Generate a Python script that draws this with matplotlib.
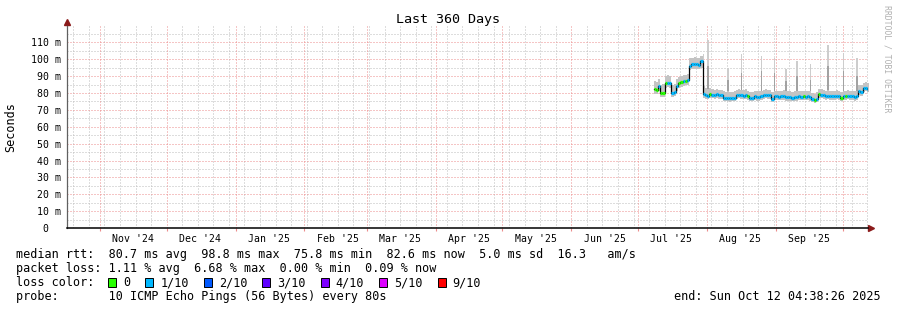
import matplotlib
matplotlib.use('Agg')
import matplotlib.pyplot as plt
import matplotlib.dates as mdates
from matplotlib.patches import Rectangle
import pandas as pd

# --- data (one value per day from 2025-07-08) ---
FIRST_DAY = '2025-07-08'
END = pd.Timestamp('2025-10-12 04:38:26')

median_ms = [
    # Jul 8 - Jul 31
    82.3, 82.0, 84.3, 79.8, 80.0, 86.0, 86.2, 86.0, 80.3, 80.6, 84.0, 85.8,
    86.5, 87.0, 87.4, 87.8, 96.0, 97.0, 97.2, 97.0, 96.8, 98.8, 79.5, 78.9,
    # Aug
    78.5, 79.3, 79.0, 78.8, 79.2, 78.6, 78.9, 77.2, 77.0, 77.3, 76.8, 77.0,
    77.1, 78.9, 79.1, 78.7, 78.5, 78.9, 78.2, 77.0, 76.9, 78.0, 77.8, 77.6,
    78.0, 78.9, 79.0, 78.6, 78.8, 76.6, 78.0,
    # Sep
    78.1, 77.9, 78.0, 78.2, 77.8, 77.4, 77.6, 77.2, 77.5, 77.4, 78.0, 77.9,
    78.2, 77.9, 78.0, 77.8, 76.3, 75.8, 76.5, 79.3, 79.0, 78.6, 78.3, 78.4,
    78.2, 78.3, 78.1, 78.4, 78.2, 77.0,
    # Oct 1 - Oct 12
    78.3, 78.2, 78.4, 78.1, 78.3, 77.8, 78.0, 81.5, 80.5, 82.8, 83.3, 82.6,
]

# lost pings out of 10 for each day
loss = [
    0, 0, 1, 0, 0, 0, 1, 1, 1, 1, 1, 0, 0, 1, 0, 1, 1, 1, 1, 1, 1, 1, 1, 1,
    1, 0, 1, 1, 1, 1, 1, 1, 1, 1, 1, 1, 1, 1, 1, 1, 1, 1, 0, 1, 1, 1, 1, 1,
    1, 1, 1, 1, 1, 1, 1,
    1, 1, 1, 1, 1, 1, 1, 1, 1, 1, 1, 1, 0, 1, 1, 1, 1, 0, 1, 0, 1, 1, 1, 1,
    1, 1, 1, 1, 1, 0,
    1, 0, 1, 1, 1, 1, 1, 1, 1, 1, 1, 1,
]

smoke_hi = [
    87.0, 86.5, 88.5, 85.0, 85.5, 90.0, 90.5, 90.0, 85.0, 85.5, 88.5, 89.5,
    90.0, 90.5, 91.0, 91.5, 100.5, 101.0, 101.5, 101.0, 100.5, 102.0, 84.0, 83.0,
    82.5, 83.0, 82.5, 82.0, 82.5, 82.0, 82.0, 81.0, 80.5, 81.0, 80.5, 80.5,
    81.0, 82.0, 82.5, 82.0, 82.0, 82.5, 81.5, 80.5, 80.5, 81.5, 81.0, 81.0,
    81.5, 82.0, 82.5, 82.0, 82.0, 80.5, 81.5,
    81.5, 81.5, 81.5, 82.0, 81.0, 81.0, 81.0, 80.5, 81.0, 81.0, 81.5, 81.5,
    81.5, 81.0, 81.5, 81.0, 80.0, 79.5, 80.5, 82.5, 82.5, 82.0, 81.5, 82.0,
    81.5, 81.5, 81.5, 82.0, 81.5, 80.5,
    81.5, 81.5, 82.0, 81.5, 81.5, 81.0, 81.5, 85.0, 84.5, 86.0, 86.5, 86.0,
]

smoke_lo = [
    79.5, 79.5, 81.5, 77.5, 77.5, 83.0, 83.5, 83.0, 77.5, 78.0, 81.5, 83.0,
    83.5, 84.0, 84.5, 85.0, 93.5, 94.5, 94.5, 94.5, 94.0, 95.0, 77.0, 76.5,
    76.5, 77.0, 77.0, 76.5, 77.0, 76.5, 76.5, 75.0, 75.0, 75.0, 74.5, 75.0,
    75.0, 76.5, 77.0, 76.5, 76.5, 76.5, 76.0, 75.0, 75.0, 76.0, 75.5, 75.5,
    76.0, 76.5, 77.0, 76.5, 76.5, 74.5, 76.0,
    76.0, 76.0, 76.0, 76.0, 75.5, 75.5, 75.5, 75.0, 75.5, 75.5, 76.0, 76.0,
    76.0, 76.0, 76.0, 75.5, 74.5, 74.0, 74.5, 77.0, 77.0, 76.5, 76.0, 76.5,
    76.0, 76.0, 76.0, 76.5, 76.0, 75.0,
    76.0, 76.0, 76.5, 76.0, 76.0, 75.5, 76.0, 79.0, 78.5, 80.5, 81.0, 80.5,
]

# single outlier pings sticking out of the smoke
spike_days = ['2025-07-30', '2025-08-01', '2025-08-10', '2025-08-16', '2025-08-25',
              '2025-08-31', '2025-09-05', '2025-09-10', '2025-09-16', '2025-09-24',
              '2025-10-01', '2025-10-07']
spike_top = [103.0, 111.5, 95.0, 103.0, 102.0, 101.0, 94.0, 99.0, 97.5, 108.5, 103.5, 101.0]
spike_mid = [92.0, 96.0, 88.0, 92.0, 93.0, 92.0, 87.0, 90.0, 88.0, 96.0, 93.0, 90.0]

loss_labels = ['0', '1/10', '2/10', '3/10', '4/10', '5/10', '9/10']
loss_colors = ['#26ff00', '#00b8ff', '#0059ff', '#5e00ff', '#7e00ff', '#dd00ff', '#ff0000']

MONO = 'DejaVu Sans Mono'
W, H = 897, 310
GRID = dict(lw=0.72, ls=(0, (1, 2)))


def px(x, y):
    '''pixel (from top-left) -> figure fraction'''
    return x / W, 1 - y / H


fig = plt.figure(figsize=(W / 100, H / 100), dpi=100)
ax = fig.add_axes([67 / W, (H - 228) / H, (867.5 - 67) / W, (228 - 25.6) / H])

start = END - pd.Timedelta(days=360)
ax.set_xlim(start, END)
ax.set_ylim(0, 120)

# grid: weekly / 5 ms in grey, monthly / 10 ms in red
month_starts = pd.date_range(start, END, freq='MS', normalize=True)
month_starts = month_starts[month_starts > start]
for d in pd.date_range(start.ceil('D'), END, freq='W-SUN'):
    if d not in month_starts:
        ax.axvline(d, color='#bcbcbc', zorder=0, **GRID)
for v in range(5, 120, 10):
    ax.axhline(v, color='#bcbcbc', zorder=0, **GRID)
for d in month_starts:
    ax.axvline(d, color='#ec8c8c', zorder=0.5, **GRID)
for v in range(10, 120, 10):
    ax.axhline(v, color='#ec8c8c', zorder=0.5, **GRID)

# smoke
days = pd.date_range(FIRST_DAY, periods=len(median_ms), freq='D')
edges = list(days) + [days[-1] + pd.Timedelta(days=1)]
ax.fill_between(edges, smoke_lo + [smoke_lo[-1]], smoke_hi + [smoke_hi[-1]],
                step='post', color='#c4c4c4', lw=0, zorder=1)

base = dict(zip(days.strftime('%Y-%m-%d'), smoke_hi))
sd = pd.to_datetime(spike_days) + pd.Timedelta(hours=12)
bottoms = [base[d] for d in spike_days]
ax.bar(sd, [t - b for t, b in zip(spike_top, bottoms)], bottom=bottoms,
       width=0.6, color='#cdcdcd', lw=0, zorder=1.2)
ax.bar(sd, [m - b for m, b in zip(spike_mid, bottoms)], bottom=bottoms,
       width=0.6, color='#a2a2a2', lw=0, zorder=1.3)

# median line, black connectors under loss-coloured steps
ax.step(edges, median_ms + [median_ms[-1]], where='post', color='black', lw=0.9, zorder=2)
x0 = mdates.date2num(days)
ax.hlines(median_ms, x0, x0 + 1, colors=[loss_colors[n] for n in loss], lw=2.3, zorder=3)

# axes look
for s in ('top', 'right'):
    ax.spines[s].set_visible(False)
ax.spines['left'].set_color('#606060')
ax.spines['left'].set_linewidth(0.9)
ax.spines['bottom'].set_color('black')
ax.spines['bottom'].set_linewidth(1.1)
ax.plot([0], [1.016], marker='^', ms=4.5, color='#8b1a1a', transform=ax.transAxes, clip_on=False)
ax.plot([1.0045], [0], marker='>', ms=4.5, color='#8b1a1a', transform=ax.transAxes, clip_on=False)

yt = list(range(0, 120, 10))
ax.set_yticks(yt)
ax.set_yticklabels([f'{v} m' if v else '0  ' for v in yt])
ax.tick_params(axis='y', length=0, pad=4.5, labelsize=7.1)

ax.set_xticks(month_starts)
ax.set_xticklabels([''] * len(month_starts))
ax.tick_params(axis='x', which='major', length=2, color='#ec8c8c', direction='out')
label_days = [d + pd.Timedelta(days=15)
              for d in pd.date_range(start - pd.Timedelta(days=31), END, freq='MS', normalize=True)]
label_days = [d for d in label_days if start < d < END]
ax.set_xticks(label_days, minor=True)
ax.set_xticklabels([d.strftime("%b '%y") for d in label_days], minor=True)
ax.tick_params(axis='x', which='minor', length=0, pad=4.5, labelsize=7.1)
for lab in ax.get_xticklabels(minor=True) + ax.get_yticklabels():
    lab.set_family(MONO)

# texts
fig.text(*px(448, 19), 'Last 360 Days', ha='center', va='center', family=MONO, fontsize=9.6)
fig.text(*px(11, 127), 'Seconds', rotation=90, ha='center', va='center', family=MONO, fontsize=8.5)
fig.text(*px(887, 5), 'RRDTOOL / TOBI OETIKER', rotation=-90, ha='center', va='top',
         family=MONO, fontsize=5.9, color='#b0b0b0')

legend_lines = [
    'median rtt:  80.7 ms avg  98.8 ms max  75.8 ms min  82.6 ms now  5.0 ms sd  16.3   am/s',
    'packet loss: 1.11 % avg  6.68 % max  0.00 % min  0.09 % now',
    'loss color:',
    'probe:       10 ICMP Echo Pings (56 Bytes) every 80s',
]
for i, line in enumerate(legend_lines):
    fig.text(*px(16, 258.3 + 14 * i), line, ha='left', va='baseline', family=MONO, fontsize=8.5)

char_w = 0.602 * 8.5 * 100 / 72
bx = 108.3
for lab, col in zip(loss_labels, loss_colors):
    fx, fy = px(bx, 287)
    fig.add_artist(Rectangle((fx, fy), 8 / W, 9 / H, transform=fig.transFigure,
                             facecolor=col, edgecolor='black', lw=0.7))
    fig.text(*px(bx + 15, 286.3), lab, ha='left', va='baseline', family=MONO, fontsize=8.5)
    bx += 15 + len(lab) * char_w + 15

fig.text(*px(881, 300.3), 'end: Sun Oct 12 04:38:26 2025', ha='right', va='baseline',
         family=MONO, fontsize=8.5)

fig.savefig('out.png', dpi=100)
